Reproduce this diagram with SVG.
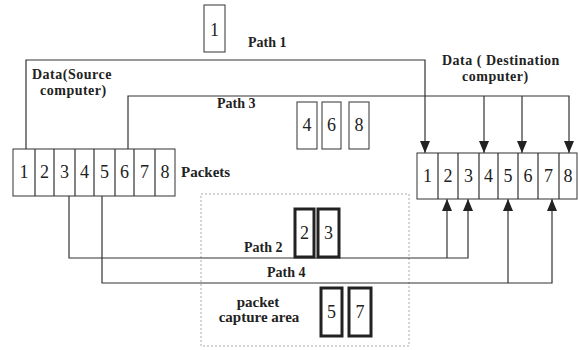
<svg xmlns="http://www.w3.org/2000/svg" width="578" height="350" viewBox="0 0 578 350">
<defs>
<style>
.ln{fill:none;stroke:#333;stroke-width:1.2}
.box{fill:#fff;stroke:#444;stroke-width:1.1}
.tbox{fill:#fff;stroke:#222;stroke-width:3}
.dg{font-family:"Liberation Serif","DejaVu Serif",serif;font-size:18px;fill:#222;text-anchor:middle}
.lb{font-family:"Liberation Serif","DejaVu Serif",serif;font-size:15px;font-weight:bold;fill:#222}
.pl{font-size:14px}
.dl{font-size:14px;letter-spacing:0.5px}
</style>
<marker id="ah2" viewBox="0 0 12 10" markerWidth="12" markerHeight="10" refX="12" refY="5" orient="auto" markerUnits="userSpaceOnUse">
<path d="M0,0 L12,5 L0,10 Z" fill="#222"/>
</marker>
</defs>
<rect width="578" height="350" fill="#fff"/>

<g id="capture-area">
<rect x="201" y="194" width="208" height="152" fill="none" stroke="#aaa" stroke-width="1" stroke-dasharray="2,2"/>
<text class="lb" x="258" y="307" text-anchor="middle">packet</text>
<text class="lb" x="259" y="322" text-anchor="middle">capture area</text>
</g>

<g id="connectors">
<polyline class="ln" points="26,149 26,60 425,60 425,153" marker-end="url(#ah2)"/>
<polyline class="ln" points="128,149 128,96 569,96 569,153" marker-end="url(#ah2)"/>
<line class="ln" x1="484" y1="96" x2="484" y2="153" marker-end="url(#ah2)"/>
<line class="ln" x1="522" y1="96" x2="522" y2="153" marker-end="url(#ah2)"/>
<polyline class="ln" points="69,196 69,258 468,258 468,199" marker-end="url(#ah2)"/>
<line class="ln" x1="447" y1="258" x2="447" y2="199" marker-end="url(#ah2)"/>
<polyline class="ln" points="102,196 102,283 552,283 552,199" marker-end="url(#ah2)"/>
<line class="ln" x1="508" y1="283" x2="508" y2="199" marker-end="url(#ah2)"/>
</g>

<g id="source">
<rect class="box" x="13" y="149" width="162" height="47"/>
<path class="ln" d="M35,149V196M54,149V196M75,149V196M94,149V196M115,149V196M134,149V196M155,149V196"/>
<text class="dg" x="24" y="178">1</text>
<text class="dg" x="44.5" y="178">2</text>
<text class="dg" x="64.5" y="178">3</text>
<text class="dg" x="84.5" y="178">4</text>
<text class="dg" x="104.5" y="178">5</text>
<text class="dg" x="124.5" y="178">6</text>
<text class="dg" x="144.5" y="178">7</text>
<text class="dg" x="165" y="178">8</text>
<text class="lb" x="181" y="177">Packets</text>
<text class="lb dl" x="32" y="79">Data(Source</text>
<text class="lb dl" x="40" y="95">computer)</text>
</g>

<g id="destination">
<rect class="box" x="417" y="153" width="160" height="46"/>
<path class="ln" d="M438,153V199M458,153V199M479,153V199M498,153V199M518,153V199M538,153V199M559,153V199"/>
<text class="dg" x="427.5" y="182">1</text>
<text class="dg" x="448" y="182">2</text>
<text class="dg" x="468.5" y="182">3</text>
<text class="dg" x="488.5" y="182">4</text>
<text class="dg" x="508" y="182">5</text>
<text class="dg" x="528" y="182">6</text>
<text class="dg" x="548.5" y="182">7</text>
<text class="dg" x="568" y="182">8</text>
<text class="lb dl" x="442" y="65">Data ( Destination</text>
<text class="lb dl" x="462" y="81">computer)</text>
</g>

<g id="path1">
<rect class="box" x="204" y="5" width="21" height="47"/>
<text class="dg" x="214.5" y="36">1</text>
<text class="lb pl" x="248" y="47">Path 1</text>
</g>

<g id="path3">
<rect class="box" x="297" y="102" width="20" height="47"/>
<rect class="box" x="322" y="102" width="19" height="47"/>
<rect class="box" x="349" y="102" width="20" height="47"/>
<text class="dg" x="307" y="131">4</text>
<text class="dg" x="331.5" y="131">6</text>
<text class="dg" x="359" y="131">8</text>
<text class="lb pl" x="217" y="108">Path 3</text>
</g>

<g id="path2">
<rect class="tbox" x="295" y="209" width="19" height="48"/>
<rect class="tbox" x="318" y="209" width="21" height="48"/>
<text class="dg" x="304.5" y="239">2</text>
<text class="dg" x="328.5" y="239">3</text>
<text class="lb pl" x="244" y="252">Path 2</text>
</g>

<g id="path4">
<text class="lb pl" x="267" y="277">Path 4</text>
</g>

<g id="captured">
<rect class="tbox" x="321" y="288" width="21" height="48"/>
<rect class="tbox" x="349" y="288" width="22" height="48"/>
<text class="dg" x="331.5" y="318">5</text>
<text class="dg" x="360" y="318">7</text>
</g>
</svg>
